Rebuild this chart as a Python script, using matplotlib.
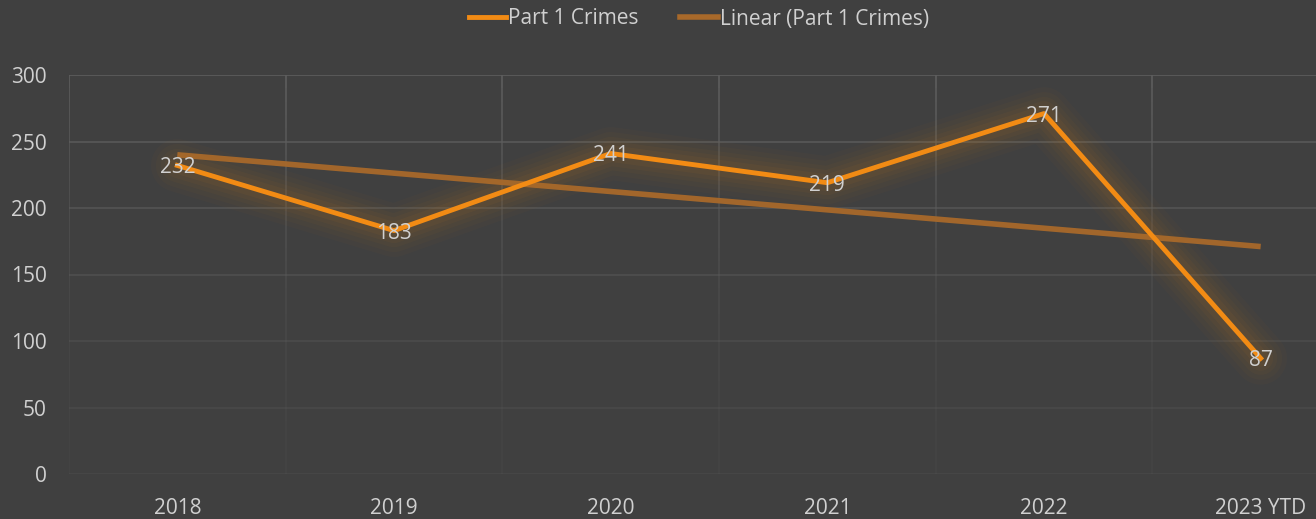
import matplotlib
matplotlib.use("Agg")
import matplotlib.pyplot as plt
import numpy as np
from matplotlib.lines import Line2D

categories = ["2018", "2019", "2020", "2021", "2022", "2023 YTD"]
crimes = [232, 183, 241, 219, 271, 87]
y_ticks = [0, 50, 100, 150, 200, 250, 300]

BG = "#404040"
GRID = "#5e5e5e"
TEXT = "#d0d0d0"
ORANGE = "#f28b14"
TREND = "#a8692a"
FS = 15

plt.rcParams["font.family"] = ["Open Sans", "DejaVu Sans"]

fig = plt.figure(figsize=(13.16, 5.19), dpi=100, facecolor=BG)
# plot area runs past the right edge of the picture, as in the reference
ax = fig.add_axes([69 / 1316, 45 / 519, 1300 / 1316, 399 / 519])
ax.set_facecolor(BG)

x = np.arange(len(categories))
ax.set_xlim(-0.5, len(categories) - 0.5)
ax.set_ylim(0, 300)

# fading gridlines (brighter at the top)
for yv in y_ticks:
    a = 0.25 + 0.75 * (yv / 300) ** 1.5
    ax.axhline(yv, color=GRID, lw=1.2, alpha=a, zorder=0)
n = 30
edges = np.linspace(0, 300, n + 1)
for xv in np.arange(-0.5, len(categories), 1.0):
    for i in range(n):
        a = 0.15 + 0.85 * ((edges[i] + edges[i + 1]) / 600) ** 2
        ax.plot([xv, xv], [edges[i], edges[i + 1]], color=GRID, lw=1.2,
                alpha=a, zorder=0, solid_capstyle="butt")

# soft glow around the main series
for w, a in [(38, 0.03), (31, 0.035), (24, 0.045), (18, 0.055), (12, 0.07)]:
    ax.plot(x, crimes, color="#c47a1e", lw=w, alpha=a, zorder=2,
            solid_capstyle="round", solid_joinstyle="round")

# linear trendline
slope, icpt = np.polyfit(x, crimes, 1)
ax.plot(x, slope * x + icpt, color=TREND, lw=4, alpha=0.95, zorder=3,
        solid_capstyle="butt")

ax.plot(x, crimes, color=ORANGE, lw=3.5, zorder=4, solid_joinstyle="round")

for xi, v in zip(x, crimes):
    ax.text(xi, v, str(v), color=TEXT, fontsize=FS, ha="center",
            va="center_baseline", zorder=5)

for s in ax.spines.values():
    s.set_visible(False)
ax.set_xticks(x)
ax.set_xticklabels(categories)
ax.set_yticks(y_ticks)
ax.tick_params(colors=TEXT, labelsize=FS, length=0)
ax.tick_params(axis="y", pad=16)
ax.tick_params(axis="x", pad=17)

handles = [Line2D([], [], color=ORANGE, lw=3.5),
           Line2D([], [], color=TREND, lw=4)]
fig.legend(handles, ["Part 1 Crimes", "Linear (Part 1 Crimes)"],
           loc="center", bbox_to_anchor=(0.531, 1 - 19 / 519), ncol=2,
           frameon=False, fontsize=FS, labelcolor=TEXT, handlelength=1.8,
           handletextpad=0.1, columnspacing=2.0)

fig.savefig("out.png", dpi=100, facecolor=BG)
